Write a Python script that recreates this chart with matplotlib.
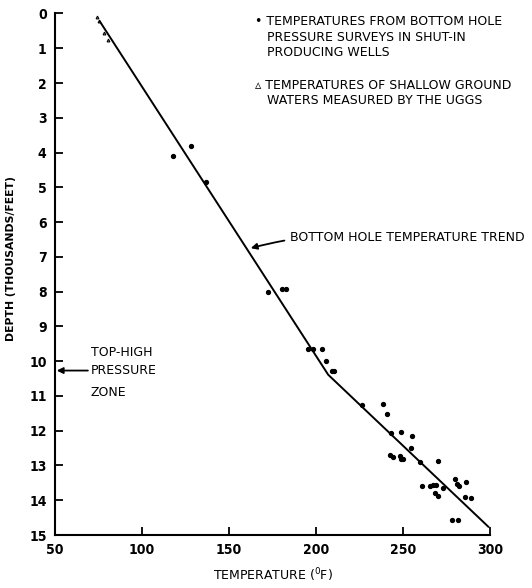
import matplotlib
matplotlib.use("Agg")
import matplotlib.pyplot as plt

# bottom hole survey temperatures (deg F) vs depth (thousand feet)
bh_temp = [117.8, 128.2, 136.8, 172.4, 180.5, 183.0,
           195.6, 198.4, 203.6, 205.5, 209.0, 210.3,
           226.6, 238.3, 240.6, 242.9, 248.9, 255.0, 254.4,
           242.5, 244.4, 248.3, 248.9, 250.2, 259.8, 270.3,
           260.7, 265.5, 267.4, 269.0, 272.8, 268.4, 270.3,
           279.9, 280.9, 282.4, 286.0, 285.6, 288.9, 278.0, 281.8]
bh_depth = [4.09, 3.81, 4.84, 8.00, 7.92, 7.92,
            9.65, 9.65, 9.65, 10.00, 10.27, 10.27,
            11.25, 11.23, 11.51, 12.06, 12.05, 12.14, 12.50,
            12.71, 12.75, 12.73, 12.80, 12.81, 12.90, 12.86,
            13.58, 13.58, 13.57, 13.55, 13.66, 13.79, 13.87,
            13.40, 13.53, 13.58, 13.48, 13.90, 13.93, 14.58, 14.58]

# shallow ground water temperatures
gw_temp = [74.0, 75.3, 78.3, 80.3]
gw_depth = [0.09, 0.21, 0.56, 0.76]

# trend line break points
trend_temp = [75.9, 207.0, 299.0]
trend_depth = [0.24, 10.39, 14.76]

xticks = [50, 100, 150, 200, 250, 300]
yticks = list(range(0, 16))

plt.rcParams["font.family"] = "DejaVu Sans"
fig = plt.figure(figsize=(5.32, 5.88), dpi=100)
ax = fig.add_axes([0.1034, 0.0901, 0.8177, 0.887])

ax.plot(trend_temp, trend_depth, color="black", lw=1.4)
ax.plot(bh_temp, bh_depth, "o", color="black", ms=2.8)
ax.plot(gw_temp, gw_depth, "^", color="black", ms=2.0, mfc="none", mew=0.8)

ax.set_xlim(50, 300)
ax.set_ylim(15, 0)
ax.set_xticks(xticks)
ax.set_yticks(yticks)
ax.spines["top"].set_visible(False)
ax.spines["right"].set_visible(False)
ax.spines["left"].set_linewidth(1.5)
ax.spines["bottom"].set_linewidth(1.5)
ax.tick_params(direction="in", length=6, width=1.3, labelsize=10, pad=6)
for lb in ax.get_xticklabels() + ax.get_yticklabels():
    lb.set_fontweight("bold")
    lb.set_fontstretch("condensed")

fig.text(273 / 532, 1 - 575 / 588, "TEMPERATURE ($^{0}$F)", fontsize=9,
         ha="center", va="center")
ax.set_ylabel("DEPTH (THOUSANDS/FEET)", fontsize=7.8, fontweight="bold")
ax.yaxis.set_label_coords(-0.09, 1 - (259 - 13.5) / 521.5)

fs = 9
# legend notes
ax.text(0.46, 0.997, "\u2022 TEMPERATURES FROM BOTTOM HOLE\n   PRESSURE SURVEYS IN SHUT-IN\n   PRODUCING WELLS",
        transform=ax.transAxes, fontsize=fs, va="top", ha="left", linespacing=1.25)
ax.text(0.46, 0.875, "\u25b5 TEMPERATURES OF SHALLOW GROUND\n   WATERS MEASURED BY THE UGGS",
        transform=ax.transAxes, fontsize=fs, va="top", ha="left", linespacing=1.25)

ax.annotate("BOTTOM HOLE TEMPERATURE TREND", xy=(162.5, 6.75), xytext=(185, 6.45),
            fontsize=fs, va="center", ha="left",
            arrowprops=dict(arrowstyle="-|>", color="black", lw=1.3,
                            connectionstyle="arc3,rad=0.1", shrinkA=2, shrinkB=0))

ax.text(70.5, 9.75, "TOP-HIGH", fontsize=fs, va="center", ha="left")
ax.text(70.5, 10.9, "ZONE", fontsize=fs, va="center", ha="left")
ax.annotate("PRESSURE", xy=(51, 10.27), xytext=(70.5, 10.27), fontsize=fs,
            va="center", ha="left",
            arrowprops=dict(arrowstyle="-|>", color="black", lw=1.3, shrinkA=0, shrinkB=0))

fig.savefig("out.png", dpi=100)
